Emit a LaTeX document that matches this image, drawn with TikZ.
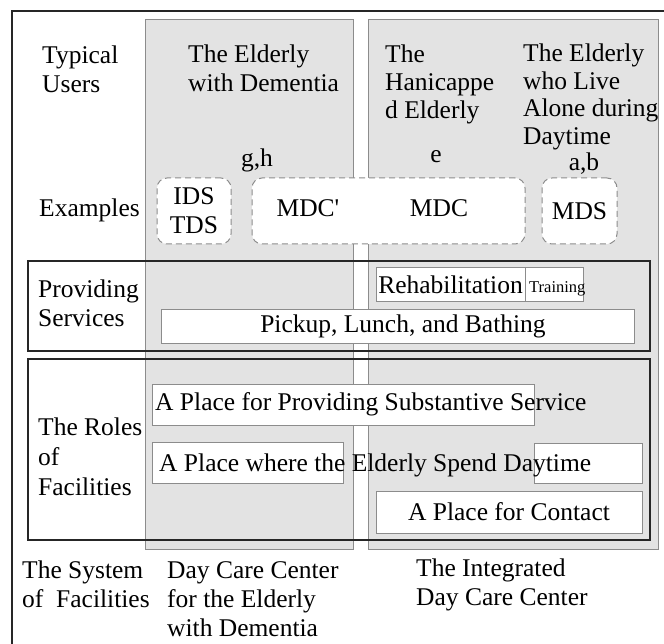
\documentclass[tikz,border=0pt]{standalone}
\usepackage{fontspec}
\setmainfont{Liberation Serif}
\usetikzlibrary{positioning}
\tikzset{
    panel/.style={draw=black!45,fill=black!11,line width=1pt},
    framebox/.style={draw=black!85,line width=1.5pt},
    wbox/.style={draw=black!45,fill=white,line width=1pt,inner sep=0pt},
    exbox/.style={draw=black!45,fill=white,line width=1pt,dash pattern=on 6pt off 4pt,rounded corners=10pt,inner sep=0pt},
    txt/.style={font=\fontsize{25.5}{29}\selectfont,inner sep=0pt,align=left},
}

\begin{document}
\begin{tikzpicture}[x=1pt,y=-1pt]
\useasboundingbox (0,0) rectangle (664,644);
\draw[black!85,line width=2pt] (12,644) -- (12,11) -- (664,11);

\node (pdem) at (249,284.5) [panel,minimum width=208,minimum height=529] {};
\node (pint) at (513,284.5) [panel,minimum width=290,minimum height=529] {};

\node (fserv) at (339,306) [framebox,minimum width=622,minimum height=90] {};
\node (froles) at (339,449.5) [framebox,minimum width=622,minimum height=181] {};

\node (ex1) at (194,211) [exbox,minimum width=74,minimum height=66,txt,align=center] {IDS\\TDS};
\node (ex2) at (388.5,211) [exbox,minimum width=273,minimum height=66] {};
\node (ex3) at (579.5,211) [exbox,minimum width=75,minimum height=66,txt] {MDS};
\node (mdcp) at (308,217) [txt,anchor=base] {MDC\textquotesingle};
\node (mdc) at (439,217) [txt,anchor=base] {MDC};

\node (rehab) at (450.5,285) [wbox,minimum width=149,minimum height=34,txt] {Rehabilitation};
\node (train) at (554,285) [wbox,minimum width=58,minimum height=34] {};
\node (traintxt) at (529,293) [inner sep=0pt,anchor=base west,font=\fontsize{16.5}{18}\selectfont] {Training};
\node (pickup) at (397.5,326.5) [wbox,minimum width=473,minimum height=33] {};
\node (pickuptxt) at (403,332) [txt,anchor=base] {Pickup, Lunch, and Bathing};

\node (subst) at (343,404.5) [wbox,minimum width=382,minimum height=41] {};
\node (substtxt) at (155,410) [txt,anchor=base west] {A Place for Providing Substantive Service};
\node (spendl) at (247.5,462.5) [wbox,minimum width=191,minimum height=41] {};
\node (spendr) at (588,463) [wbox,minimum width=108,minimum height=40] {};
\node (spendtxt) at (159,471) [txt,anchor=base west] {A Place where the Elderly Spend Daytime};
\node (contact) at (509,512) [wbox,minimum width=266,minimum height=42] {};
\node (contacttxt) at (509,520) [txt,anchor=base] {A Place for Contact};

\node (users) at (42,45.5) [txt,anchor=north west] {Typical\\Users};
\node (udem) at (188,45) [txt,anchor=north west] {The Elderly\\with Dementia};
\node (uhan) at (385,44.5) [txt,anchor=north west,font=\fontsize{25.5}{28}\selectfont] {The\\Hanicappe\\d Elderly};
\node (ualone) at (523,44) [txt,anchor=north west,font=\fontsize{25.5}{27.5}\selectfont] {The Elderly\\who Live\\Alone during\\Daytime};
\node (lgh) at (257,167) [txt,anchor=base] {g,h};
\node (le) at (436,163) [txt,anchor=base] {e};
\node (lab) at (584,171) [txt,anchor=base] {a,b};
\node (examples) at (39,217) [txt,anchor=base west] {Examples};

\node (serv) at (38,279.5) [txt,anchor=north west] {Providing\\Services};
\node (roles) at (38,417.5) [txt,anchor=north west,font=\fontsize{25.5}{30}\selectfont] {The Roles\\of\\Facilities};

\node (system) at (22,560.5) [txt,anchor=north west] {The System\\of~ Facilities};
\node (cdem) at (167,561) [txt,anchor=north west] {Day Care Center\\for the Elderly\\with Dementia};
\node (cint) at (416,558.5) [txt,anchor=north west] {The Integrated\\Day Care Center};
\end{tikzpicture}
\end{document}
